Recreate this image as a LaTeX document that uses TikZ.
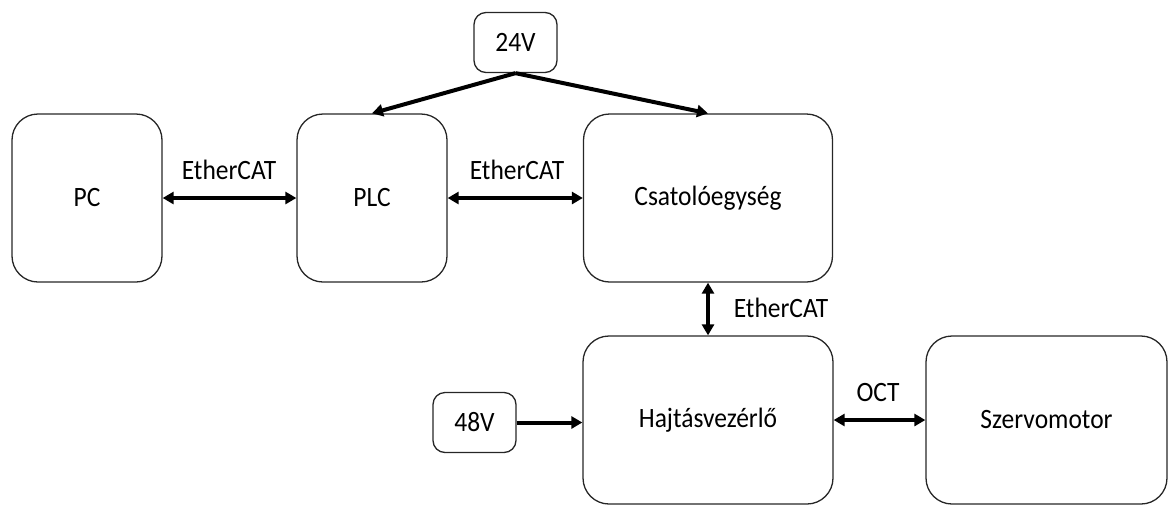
\documentclass[tikz,border=0pt]{standalone}
\usepackage{fontspec}
\setmainfont{Carlito}[FakeStretch=0.91]
\usetikzlibrary{arrows.meta,positioning}

\begin{document}
\begin{tikzpicture}[x=1pt,y=-1pt,
  box/.style={draw=black!85,line width=1.3pt,rounded corners=26pt,minimum height=168pt,font=\fontsize{28}{32}\selectfont},
  supply/.style={draw=black!85,line width=1.3pt,rounded corners=12pt,minimum width=83pt,minimum height=60pt,font=\fontsize{28}{32}\selectfont},
  link/.style={line width=4pt,-{Triangle[length=11pt,width=12pt]}},
  duplex/.style={line width=4pt,{Triangle[length=11pt,width=12pt]}-{Triangle[length=11pt,width=12pt]}},
  lbl/.style={font=\fontsize{28}{32}\selectfont}]
\useasboundingbox (0,0) rectangle (1169,504);
% blocks
\node[box,minimum width=150pt] (pc) at (87,198) {PC};
\node[box,minimum width=150pt] (plc) at (372,198) {PLC};
\node[box,minimum width=249pt] (csat) at (708,198) {Csatolóegység};
\node[box,minimum width=250pt] (hajt) at (708,420) {Hajtásvezérlő};
\node[box,minimum width=241pt] (szervo) at (1046.5,420) {Szervomotor};
\node[supply] (v24) at (515.5,42.5) {24V};
\node[supply] (v48) at (474.5,422.5) {48V};
% connections
\draw[duplex] (pc) -- (plc);
\draw[duplex] (plc) -- (csat);
\draw[duplex] (csat) -- (hajt);
\draw[duplex] (hajt) -- (szervo);
\draw[link] (v24.south) -- (plc.north);
\draw[link] (v24.south) -- (csat.north);
\draw[link] (v48.east) -- (v48.east -| hajt.west);
% labels
\node[lbl] (l1) at (229,170) {EtherCAT};
\node[lbl] (l2) at (517,170) {EtherCAT};
\node[lbl] (l3) at (781,308) {EtherCAT};
\node[lbl] (l4) at (878,393) {OCT};
\end{tikzpicture}
\end{document}
